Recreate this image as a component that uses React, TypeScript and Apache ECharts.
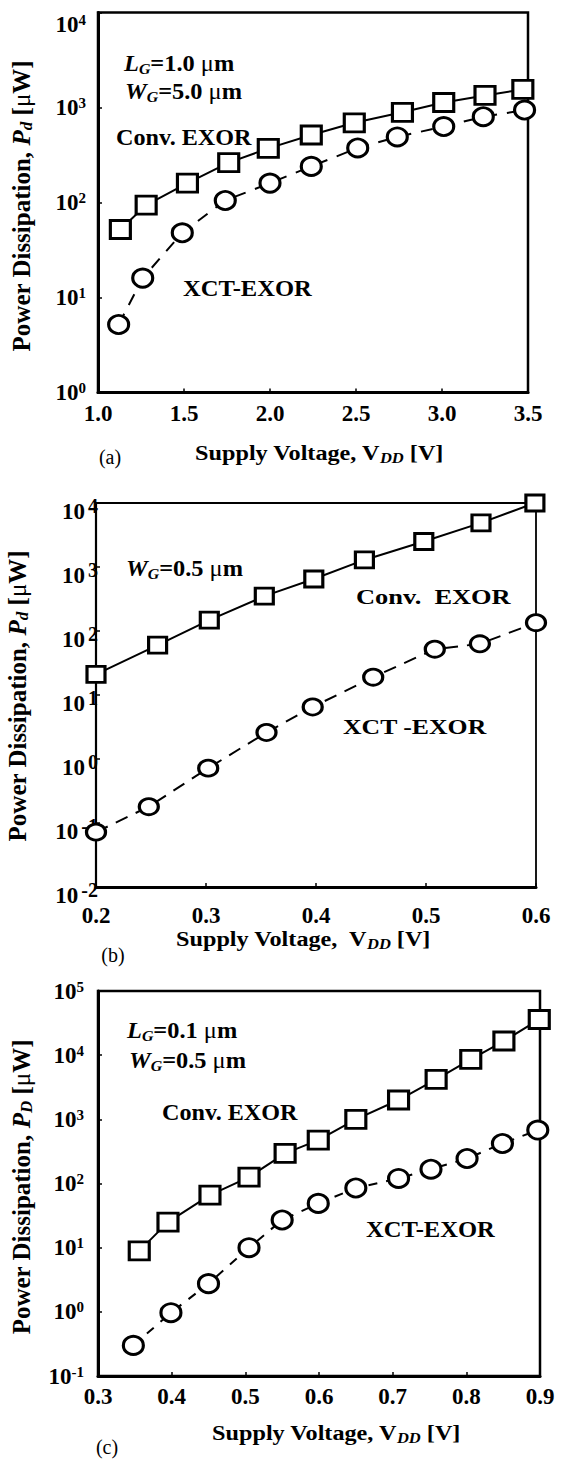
import React, { useEffect, useRef } from "react";
import * as echarts from "echarts";

const FONT = '"Liberation Serif", "Times New Roman", Times, serif';

// ---------- Panel (a): LG=1.0 um, WG=5.0 um ----------
const xRangeA = [1.0, 3.5];
const xStepA = 0.5;
const yRangeA = [1, 10000];
const voltA_conv = [1.13, 1.28, 1.52, 1.76, 1.99, 2.24, 2.49, 2.77, 3.01, 3.25, 3.47];
const powerA_conv = [52, 94, 160, 263, 371, 513, 690, 890, 1130, 1340, 1550];
const voltA_xct = [1.12, 1.26, 1.49, 1.74, 2.0, 2.24, 2.51, 2.74, 3.01, 3.24, 3.48];
const powerA_xct = [5.2, 16, 48, 105, 160, 240, 375, 490, 630, 800, 940];

// ---------- Panel (b): WG=0.5 um ----------
const xRangeB = [0.2, 0.6];
const xStepB = 0.1;
const yRangeB = [0.01, 10000];
const voltB_conv = [0.2, 0.256, 0.303, 0.353, 0.398, 0.444, 0.498, 0.55, 0.599];
const powerB_conv = [21, 60, 148, 350, 650, 1290, 2500, 4900, 10000];
const voltB_xct = [0.2, 0.248, 0.302, 0.355, 0.397, 0.452, 0.508, 0.549, 0.6];
const powerB_xct = [0.072, 0.18, 0.72, 2.6, 6.5, 19, 52, 63, 135];

// ---------- Panel (c): LG=0.1 um, WG=0.5 um ----------
const xRangeC = [0.3, 0.9];
const xStepC = 0.1;
const yRangeC = [0.1, 100000];
const voltC_conv = [0.356, 0.395, 0.452, 0.505, 0.554, 0.599, 0.65, 0.708, 0.759, 0.806, 0.851, 0.899];
const powerC_conv = [8.9, 25, 66, 126, 295, 475, 1000, 2000, 4200, 8600, 16600, 36000];
const voltC_xct = [0.348, 0.399, 0.45, 0.505, 0.55, 0.599, 0.65, 0.708, 0.752, 0.801, 0.849, 0.897];
const powerC_xct = [0.3, 0.97, 2.75, 10, 27, 49, 85, 120, 167, 245, 420, 680];

const zip = (xs: number[], ys: number[]) => xs.map((x, i) => [x, ys[i]]);
const expOf = (v: number) => Math.round(Math.log10(v));

function mkX(gridIndex: number, range: number[], step: number, margin: number) {
  return {
    type: "value",
    gridIndex,
    min: range[0],
    max: range[1],
    interval: step,
    axisLine: { show: true, onZero: false, lineStyle: { color: "#000", width: 3 } },
    axisTick: { show: true, inside: true, length: 4, lineStyle: { color: "#000", width: 1.5 } },
    splitLine: { show: false },
    axisLabel: {
      color: "#000",
      fontFamily: FONT,
      fontWeight: "bold",
      fontSize: 23,
      margin,
      formatter: (v: number) => v.toFixed(1),
    },
  };
}

function mkY(gridIndex: number, range: number[], splitNumber: number, label: any, lineW: number) {
  return {
    type: "log",
    logBase: 10,
    gridIndex,
    min: range[0],
    max: range[1],
    splitNumber,
    axisLine: { show: true, onZero: false, lineStyle: { color: "#000", width: lineW } },
    axisTick: { show: true, inside: true, length: 4, lineStyle: { color: "#000", width: 1.5 } },
    splitLine: { show: false },
    minorTick: { show: false },
    axisLabel: label,
  };
}

const baseTok = { fontFamily: FONT, fontWeight: "bold", color: "#000" };

const yLabelA = {
  margin: 12,
  formatter: (v: number) => {
    const e = expOf(v);
    return e === 4 ? `{gap| }\n{b|10}{e|${e}}` : `{b|10}{e|${e}}`;
  },
  rich: {
    gap: { fontSize: 1, lineHeight: 24 },
    b: { ...baseTok, fontSize: 23, lineHeight: 24 },
    e: { ...baseTok, fontSize: 15, lineHeight: 15, verticalAlign: "top" },
  },
};

const yLabelB = {
  margin: -2,
  padding: [16, 0, 0, 0],
  formatter: (v: number) => `{b|10}{e|${expOf(v)}}`,
  rich: {
    b: { ...baseTok, fontSize: 23, lineHeight: 30 },
    e: { ...baseTok, fontSize: 20, lineHeight: 20, verticalAlign: "top", padding: [0, 0, 0, 3] },
  },
};

const yLabelC = {
  margin: 14,
  formatter: (v: number) => `{b|10}{e|${expOf(v)}}`,
  rich: {
    b: { ...baseTok, fontSize: 23, lineHeight: 24 },
    e: { ...baseTok, fontSize: 15, lineHeight: 15, verticalAlign: "top" },
  },
};

function convSeries(idx: number, data: number[][], size: number[], bw: number) {
  return {
    type: "line",
    xAxisIndex: idx,
    yAxisIndex: idx,
    data,
    clip: false,
    symbol: "rect",
    symbolSize: size,
    showSymbol: true,
    itemStyle: { color: "#fff", borderColor: "#000", borderWidth: bw },
    lineStyle: { color: "#000", width: 2, type: "solid" },
    z: 3,
  };
}
function xctSeries(idx: number, data: number[][], size: number[], bw: number, dash: number[]) {
  return {
    type: "line",
    xAxisIndex: idx,
    yAxisIndex: idx,
    data,
    clip: false,
    symbol: "circle",
    symbolSize: size,
    showSymbol: true,
    itemStyle: { color: "#fff", borderColor: "#000", borderWidth: bw },
    lineStyle: { color: "#000", width: 2, type: dash },
    z: 3,
  };
}

// rich styles for graphic texts
const gTok = (fs: number, extra: any = {}) => ({ fontFamily: FONT, fontWeight: "bold", fontSize: fs, fill: "#000", lineHeight: 26, ...extra });
const annRich = {
  n: gTok(23),
  u: gTok(23, { fontWeight: "normal" }),
  i: gTok(23, { fontStyle: "italic" }),
  s: gTok(15, { fontStyle: "italic", lineHeight: 15, verticalAlign: "bottom" }),
};
const xtRich = {
  n: gTok(22),
  s: gTok(15, { fontStyle: "italic", lineHeight: 15, verticalAlign: "bottom" }),
};
const ytRich = {
  n: gTok(25),
  u: gTok(25, { fontWeight: "normal" }),
  i: gTok(25, { fontStyle: "italic", lineHeight: 28 }),
  s: gTok(17, { fontStyle: "italic", lineHeight: 17, verticalAlign: "bottom" }),
};

function gText(x: number, y: number, text: string, rich: any, align = "left", scaleX = 1, rotation = 0) {
  return {
    type: "text",
    x,
    y,
    scaleX,
    rotation,
    z: 10,
    style: { text, rich, align, verticalAlign: "middle", fill: "#000", fontFamily: FONT, fontWeight: "bold", fontSize: 23 },
  };
}
function plainText(x: number, y: number, text: string) {
  return {
    type: "text",
    x,
    y,
    z: 10,
    style: { text, align: "center", verticalAlign: "middle", fill: "#000", fontFamily: FONT, fontSize: 20 },
  };
}

export default function App() {
  const ref = useRef<HTMLDivElement>(null);
  useEffect(() => {
    document.body.style.margin = "0";
    const chart = echarts.init(ref.current!, null, { renderer: "svg" });
    const option: any = {
      animation: false,
      backgroundColor: "#fff",
      grid: [
        { left: 98, top: 12.5, width: 430, height: 380, show: true, borderColor: "#000", borderWidth: 2.5 },
        { left: 96, top: 503, width: 440, height: 384, show: true, borderColor: "#000", borderWidth: 1.8 },
        { left: 98, top: 991, width: 442, height: 385, show: true, borderColor: "#000", borderWidth: 2.5 },
      ],
      xAxis: [mkX(0, xRangeA, xStepA, 9), mkX(1, xRangeB, xStepB, 17), mkX(2, xRangeC, xStepC, 9)],
      yAxis: [
        mkY(0, yRangeA, 4, yLabelA, 3),
        mkY(1, yRangeB, 6, yLabelB, 2.2),
        mkY(2, yRangeC, 6, yLabelC, 3),
      ],
      series: [
        convSeries(0, zip(voltA_conv, powerA_conv), [20, 18], 3),
        xctSeries(0, zip(voltA_xct, powerA_xct), [20, 18], 3, [12, 10]),
        convSeries(1, zip(voltB_conv, powerB_conv), [18, 16], 3),
        xctSeries(1, zip(voltB_xct, powerB_xct), [19, 16], 3, [13, 9]),
        convSeries(2, zip(voltC_conv, powerC_conv), [20, 18], 3),
        xctSeries(2, zip(voltC_xct, powerC_xct), [20, 18], 3, [9, 9]),
      ],
      graphic: [
        // (a)
        gText(124, 63, "{i|L}{s|G}{n|=1.0 }{u|μ}{n|m}", annRich, "left", 1.06),
        gText(125, 91, "{i|W}{s|G}{n|=5.0 }{u|μ}{n|m}", annRich, "left", 1.06),
        gText(116, 137, "{n|Conv. EXOR}", annRich, "left", 1.05),
        gText(183, 288, "{n|XCT-EXOR}", annRich, "left", 1.07),
        gText(319, 452, "{n|Supply Voltage, V}{s|DD}{n| [V]}", xtRich, "center", 1.1),
        plainText(110, 457, "(a)"),
        gText(21, 206, "{n|Power Dissipation, }{i|P}{s|d}{n| [}{u|μ}{n|W]}", ytRich, "center", 1, Math.PI / 2),
        // (b)
        gText(126, 568, "{i|W}{s|G}{n|=0.5 }{u|μ}{n|m}", annRich, "left", 1.06),
        gText(356, 596, "{n|Conv.  EXOR}", { n: gTok(22) }, "left", 1.2),
        gText(343, 727, "{n|XCT -EXOR}", { n: gTok(22) }, "left", 1.17),
        gText(303, 938, "{n|Supply Voltage,  V}{s|DD}{n| [V]}", xtRich, "center", 1.1),
        plainText(113, 955, "(b)"),
        gText(17, 696, "{n|Power Dissipation, }{i|P}{s|d}{n| [}{u|μ}{n|W]}", ytRich, "center", 1, Math.PI / 2),
        // (c)
        gText(127, 1030, "{i|L}{s|G}{n|=0.1 }{u|μ}{n|m}", annRich, "left", 1.06),
        gText(129, 1060, "{i|W}{s|G}{n|=0.5 }{u|μ}{n|m}", annRich, "left", 1.06),
        gText(162, 1112, "{n|Conv. EXOR}", annRich, "left", 1.05),
        gText(366, 1229, "{n|XCT-EXOR}", annRich, "left", 1.07),
        gText(336, 1432, "{n|Supply Voltage, V}{s|DD}{n| [V]}", xtRich, "center", 1.1),
        plainText(107, 1447, "(c)"),
        gText(21, 1187, "{n|Power Dissipation, }{i|P}{s|D}{n| [}{u|μ}{n|W]}", ytRich, "center", 1, Math.PI / 2),
      ],
    };
    chart.setOption(option);
    return () => chart.dispose();
  }, []);
  return <div ref={ref} style={{ position: "absolute", left: 0, top: 0, width: 563, height: 1459 }} />;
}
